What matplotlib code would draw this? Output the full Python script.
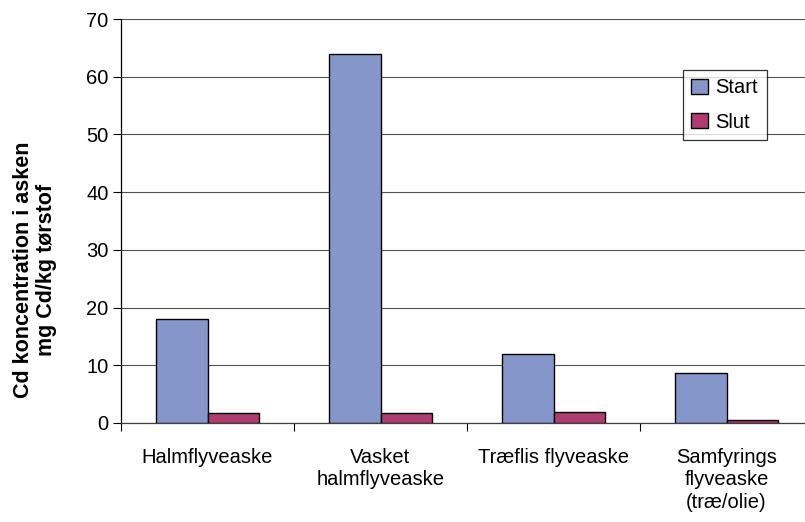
import numpy as np
import matplotlib
matplotlib.use('Agg')
import matplotlib.pyplot as plt

# =========================================================
# DATA
# =========================================================
categories = ["Halmflyveaske", "Vasket\nhalmflyveaske", "Træflis flyveaske",
              "Samfyrings\nflyveaske\n(træ/olie)"]
start_vals = [18.0, 64.0, 12.0, 8.7]
slut_vals = [1.8, 1.8, 1.9, 0.6]
y_ticks = [0, 10, 20, 30, 40, 50, 60, 70]

# =========================================================
# STYLE
# =========================================================
plt.rcParams['font.family'] = ['Liberation Sans', 'DejaVu Sans']
fs = 14.5
col_start = '#8596CB'
col_slut = '#B03D71'

fig = plt.figure(figsize=(8.05, 5.22), dpi=100)
ax = fig.add_axes([121 / 805, 99 / 522, 692 / 805, 404 / 522])

x = np.arange(len(categories))
w = 0.295
ax.bar(x - w / 2, start_vals, w, color=col_start, edgecolor='black', linewidth=1.0,
       label='Start', zorder=3)
ax.bar(x + w / 2, slut_vals, w, color=col_slut, edgecolor='black', linewidth=1.0,
       label='Slut', zorder=3)

ax.set_xlim(-0.5, len(categories) - 0.5)
ax.set_ylim(0, 70)
ax.set_yticks(y_ticks)
ax.yaxis.grid(True, color='#505050', linewidth=0.8, zorder=0)
ax.set_axisbelow(True)

# category boundaries as major ticks, labels on minor ticks
ax.set_xticks(np.arange(len(categories) + 1) - 0.5)
ax.set_xticklabels([])
ax.set_xticks(x, minor=True)
ax.set_xticklabels(categories, minor=True, fontsize=fs, linespacing=1.22)
ax.tick_params(axis='x', which='major', direction='out', length=6, width=0.8)
ax.tick_params(axis='x', which='minor', length=0, pad=18)
ax.tick_params(axis='y', direction='out', length=6, width=0.8, labelsize=fs, pad=3)

for s in ['top', 'right']:
    ax.spines[s].set_visible(False)
ax.spines['left'].set_linewidth(0.9)
ax.spines['bottom'].set_linewidth(0.9)
ax.spines['bottom'].set_color('#404040')

# y label placed like the original (lower than axis centre)
fig.text(35 / 805, 1 - 270 / 522, "Cd koncentration i asken\nmg Cd/kg tørstof",
         rotation=90, ha='center', va='center', fontsize=15.5, fontweight='bold',
         linespacing=1.15, multialignment='center')

leg = ax.legend(loc='upper left', bbox_to_anchor=(562 / 692, 1 - 51 / 404),
                fontsize=fs, frameon=True, fancybox=False, edgecolor='black',
                handlelength=0.8, handleheight=0.8, handletextpad=0.4,
                borderpad=0.42, labelspacing=0.75, borderaxespad=0)
leg.get_frame().set_linewidth(0.9)

fig.savefig('out.png', dpi=100)
